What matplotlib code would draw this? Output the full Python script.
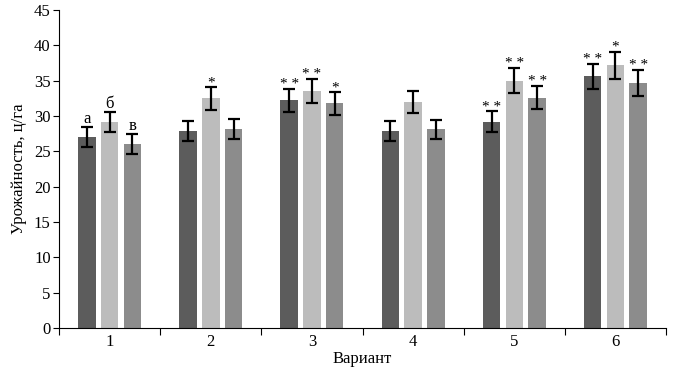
import numpy as np
import matplotlib
matplotlib.use("Agg")
import matplotlib.pyplot as plt

plt.rcParams['font.family'] = ['Liberation Serif', 'DejaVu Serif']

variants = ["1", "2", "3", "4", "5", "6"]
series_a = [27.0, 27.9, 32.2, 27.9, 29.2, 35.6]
series_b = [29.1, 32.5, 33.5, 32.0, 35.0, 37.2]
series_c = [26.0, 28.2, 31.8, 28.1, 32.6, 34.7]
err_a = [1.4, 1.45, 1.65, 1.45, 1.45, 1.75]
err_b = [1.4, 1.6, 1.7, 1.6, 1.75, 1.9]
err_c = [1.4, 1.4, 1.6, 1.4, 1.65, 1.8]
marks_a = ["а", "", "**", "", "**", "**"]
marks_b = ["б", "*", "**", "", "**", "*"]
marks_c = ["в", "", "*", "", "**", "**"]

colors = ["#5c5c5c", "#bcbcbc", "#8c8c8c"]

fig = plt.figure(figsize=(6.73, 3.73), dpi=100)
ax = fig.add_axes([0.0877, 0.1206, 0.902, 0.8526])

x = np.arange(len(variants)) + 0.5
width = 0.173
offset = 0.225

groups = [(series_a, err_a, marks_a), (series_b, err_b, marks_b), (series_c, err_c, marks_c)]
for i, (vals, errs, marks) in enumerate(groups):
    pos = x + (i - 1) * offset
    ax.bar(pos, vals, width=width, color=colors[i], zorder=2)
    ax.errorbar(pos, vals, yerr=errs, fmt="none", ecolor="black", elinewidth=1.6,
                capsize=4, capthick=1.6, zorder=3)
    for p, v, e, m in zip(pos, vals, errs, marks):
        if not m:
            continue
        if m in ("а", "б", "в"):
            ax.text(p, v + e + 0.1, m, ha="center", va="bottom", fontsize=12)
        else:
            ax.text(p, v + e - 0.3, " ".join(m) if len(m) > 1 else m,
                    ha="center", va="bottom", fontsize=11)

ax.set_xlim(0, len(variants))
ax.set_ylim(0, 45)
ax.set_yticks(np.arange(0, 46, 5))
ax.set_xticks(np.arange(0, len(variants) + 1))
ax.set_xticklabels([])
ax.set_xticks(x, minor=True)
ax.set_xticklabels(variants, minor=True)
ax.tick_params(axis="x", which="minor", length=0, labelsize=12, pad=4)
ax.tick_params(axis="x", which="major", length=5, direction="out")
ax.tick_params(axis="y", length=4, direction="out", labelsize=12, pad=2)

ax.spines["top"].set_visible(False)
ax.spines["right"].set_visible(False)

ax.set_ylabel("Урожайность, ц/га", fontsize=12, labelpad=5)
ax.set_xlabel("Вариант", fontsize=12, labelpad=1)

fig.savefig("out.png", dpi=100)
